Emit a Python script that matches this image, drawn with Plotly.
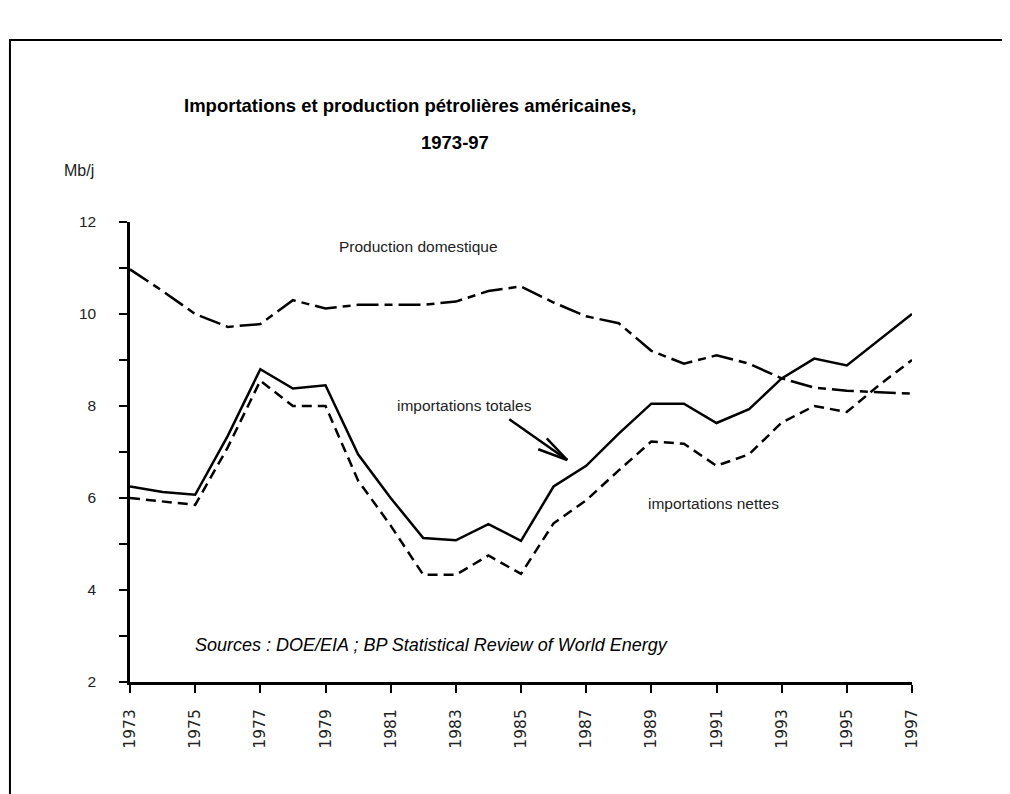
import plotly.graph_objects as go

years = list(range(1973, 1998))
production = [10.97, 10.5, 10.0, 9.72, 9.78, 10.3, 10.12, 10.2, 10.2, 10.2, 10.27, 10.5, 10.6,
              10.25, 9.95, 9.8, 9.2, 8.92, 9.1, 8.92, 8.6, 8.4, 8.33, 8.3, 8.27]
imports_total = [6.25, 6.13, 6.07, 7.35, 8.8, 8.38, 8.45, 6.95, 6.0, 5.13, 5.08, 5.43, 5.07,
                 6.25, 6.7, 7.4, 8.05, 8.05, 7.63, 7.93, 8.6, 9.03, 8.88, 9.45, 10.0]
imports_net = [6.0, 5.92, 5.85, 7.1, 8.55, 8.0, 8.0, 6.38, 5.4, 4.33, 4.33, 4.75, 4.35,
               5.45, 5.95, 6.6, 7.23, 7.18, 6.7, 6.95, 7.64, 8.0, 7.87, 8.46, 9.0]
x_ticks = list(range(1973, 1998, 2))
y_ticks = list(range(2, 13))
y_ticktext = [str(v) if v % 2 == 0 else "" for v in y_ticks]

ARIAL = "Liberation Sans, Arial, sans-serif"

fig = go.Figure()
fig.add_trace(go.Scatter(x=years, y=production, mode="lines", cliponaxis=False,
                         line=dict(color="black", width=2.5, dash="22px,6px,8px,6px"),
                         name="Production domestique"))
fig.add_trace(go.Scatter(x=years, y=imports_total, mode="lines", cliponaxis=False,
                         line=dict(color="black", width=2.5),
                         name="importations totales"))
fig.add_trace(go.Scatter(x=years, y=imports_net, mode="lines", cliponaxis=False,
                         line=dict(color="black", width=2.5, dash="10px,6px"),
                         name="importations nettes"))

annotations = [
    dict(text="<b>Importations et production pétrolières américaines,</b>", xref="paper", yref="paper",
         x=0.0665, y=1.2543, xanchor="left", yanchor="middle", showarrow=False,
         font=dict(family=ARIAL, size=18.5, color="black")),
    dict(text="<b>1973-97</b>", xref="paper", yref="paper",
         x=0.4156, y=1.1739, xanchor="center", yanchor="middle", showarrow=False,
         font=dict(family=ARIAL, size=18.5, color="black")),
    dict(text="Mb/j", xref="paper", yref="paper",
         x=-0.087, y=1.113, xanchor="left", yanchor="middle", showarrow=False,
         font=dict(family=ARIAL, size=16, color="#222")),
    dict(text="Production domestique", x=1979.35, y=11.457, xanchor="left", yanchor="middle",
         showarrow=False, font=dict(family=ARIAL, size=15.5, color="#222")),
    dict(text="importations totales", x=1981.13, y=8.02, xanchor="left", yanchor="middle",
         showarrow=False, font=dict(family=ARIAL, size=15.5, color="#222")),
    dict(text="importations nettes", x=1988.84, y=5.89, xanchor="left", yanchor="middle",
         showarrow=False, font=dict(family=ARIAL, size=15.5, color="#222")),
    dict(text="<i>Sources : DOE/EIA ; BP Statistical Review of World Energy</i>", x=1974.93, y=2.80,
         xanchor="left", yanchor="middle", showarrow=False,
         font=dict(family=ARIAL, size=18, color="black")),
]

shapes = [
    dict(type="rect", xref="paper", yref="paper", x0=-0.1535, x1=1.119, y0=-0.27, y1=1.3957,
         line=dict(color="black", width=2), fillcolor="rgba(0,0,0,0)", layer="below"),
    dict(type="line", x0=1984.64, y0=7.711, x1=1986.42, y1=6.826, line=dict(color="black", width=2.5)),
    dict(type="line", x0=1986.42, y0=6.826, x1=1985.53, y1=7.059, line=dict(color="black", width=2.5)),
    dict(type="line", x0=1986.42, y0=6.826, x1=1985.79, y1=7.298, line=dict(color="black", width=2.5)),
]

fig.update_layout(
    width=1002, height=786,
    margin=dict(l=122, r=98, t=214, b=112),
    paper_bgcolor="white", plot_bgcolor="white",
    showlegend=False,
    annotations=annotations,
    shapes=shapes,
    xaxis=dict(range=[1973, 1997], tickvals=x_ticks, ticktext=[str(v) for v in x_ticks],
               tickangle=-90, ticks="outside", ticklen=8, tickwidth=2, tickcolor="black",
               showline=True, linecolor="black", linewidth=3, showgrid=False, zeroline=False,
               ticklabelstandoff=10,
               tickfont=dict(family="DejaVu Sans, sans-serif", size=15.5, color="#222")),
    yaxis=dict(range=[2, 12], tickvals=y_ticks, ticktext=y_ticktext,
               ticks="outside", ticklen=8, tickwidth=2, tickcolor="black",
               showline=True, linecolor="black", linewidth=2.5, showgrid=False, zeroline=False,
               ticklabelstandoff=20,
               tickfont=dict(family=ARIAL, size=15.5, color="#222")),
)

fig.write_html("out.html")
